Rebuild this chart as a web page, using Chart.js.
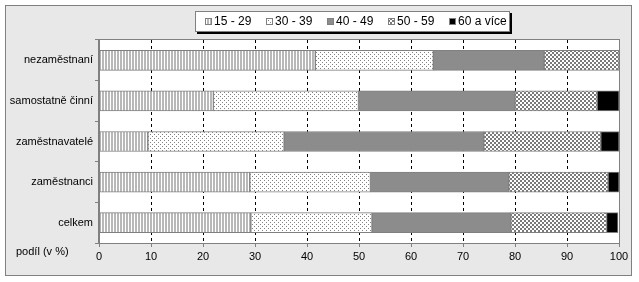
<!DOCTYPE html>
<html>
<head>
<meta charset="utf-8">
<script src="https://cdn.jsdelivr.net/npm/chart.js@4/dist/chart.umd.min.js"></script>
<style>
  html, body { margin: 0; padding: 0; background: #fff; }
  #wrap { width: 639px; height: 282px; }
</style>
</head>
<body>
<div id="wrap"><canvas id="ageChart" width="639" height="282"></canvas></div>
<script>
const categories = ['nezaměstnaní', 'samostatně činní', 'zaměstnavatelé', 'zaměstnanci', 'celkem'];
const groupLabels = ['15 - 29', '30 - 39', '40 - 49', '50 - 59', '60 a více'];
const age15to29 = [41.6, 22.0, 9.4, 29.0, 29.2];
const age30to39 = [22.7, 27.9, 26.2, 23.2, 23.3];
const age40to49 = [21.3, 30.1, 38.4, 26.6, 26.7];
const age50to59 = [14.4, 15.8, 22.5, 19.1, 18.4];
const age60plus = [0, 4.2, 3.5, 2.1, 2.2];
const xTicks = [0, 10, 20, 30, 40, 50, 60, 70, 80, 90, 100];

const FONT = '"Liberation Sans", Arial, sans-serif';

// small canvas patterns like the old excel fills
function makePattern(w, h, draw) {
  const c = document.createElement('canvas');
  c.width = w; c.height = h;
  const g = c.getContext('2d');
  g.fillStyle = '#fff';
  g.fillRect(0, 0, w, h);
  draw(g);
  return document.getElementById('ageChart').getContext('2d').createPattern(c, 'repeat');
}

const stripes = makePattern(3, 1, g => { g.fillStyle = '#b8b8b8'; g.fillRect(0, 0, 2, 1); });
const dots = makePattern(4, 4, g => { g.fillStyle = '#808080'; g.fillRect(0, 0, 1, 1); g.fillRect(2, 2, 1, 1); });
const checks = makePattern(4, 4, g => { g.fillStyle = '#7a7a7a'; g.fillRect(0, 0, 2, 2); g.fillRect(2, 2, 2, 2); });
const fills = [stripes, dots, '#8c8c8c', checks, '#000000'];
const series = [age15to29, age30to39, age40to49, age50to59, age60plus];

const frame = {
  id: 'frame',
  beforeDraw(chart) {
    const c = chart.ctx, a = chart.chartArea;
    c.save();
    c.fillStyle = '#fff';
    c.fillRect(0, 0, chart.width, chart.height);
    c.fillStyle = '#e8e8e8';
    c.fillRect(5, 5, 627, 271);
    c.strokeStyle = '#808080';
    c.lineWidth = 1;
    c.strokeRect(5.5, 5.5, 626, 270);
    c.fillStyle = '#fff';
    c.fillRect(a.left, a.top, a.right - a.left, a.bottom - a.top);
    c.restore();
  },
  afterDraw(chart) {
    const c = chart.ctx, a = chart.chartArea;
    c.save();
    c.strokeStyle = '#808080';
    c.lineWidth = 1;
    c.strokeRect(Math.round(a.left) - 0.5, Math.round(a.top) - 0.5, Math.round(a.right - a.left) + 1, Math.round(a.bottom - a.top) + 1);

    // legend box with shadow
    const bx = 195, by = 11, bw = 315, bh = 21;
    c.fillStyle = '#000';
    c.fillRect(bx + 2, by + 2, bw, bh);
    c.fillStyle = '#fff';
    c.fillRect(bx, by, bw, bh);
    c.strokeStyle = '#808080';
    c.strokeRect(bx + 0.5, by + 0.5, bw - 1, bh - 1);
    c.font = '12px ' + FONT;
    c.textBaseline = 'middle';
    chart.data.datasets.forEach((ds, i) => {
      const x = 205 + i * 61;
      c.fillStyle = ds.backgroundColor;
      c.fillRect(x, by + 7, 7, 7);
      c.strokeStyle = '#808080';
      c.strokeRect(x + 0.5, by + 7.5, 6, 6);
      c.fillStyle = '#000';
      c.fillText(ds.label, x + 9, by + 11);
    });

    // axis caption
    c.font = '11px ' + FONT;
    c.textAlign = 'left';
    c.fillText('podíl (v %)', 16, 252);
    c.restore();
  }
};

new Chart(document.getElementById('ageChart'), {
  type: 'bar',
  data: {
    labels: categories,
    datasets: series.map((vals, i) => ({
      label: groupLabels[i],
      data: vals,
      backgroundColor: fills[i],
      borderColor: '#808080',
      borderWidth: 1,
      borderSkipped: false,
      barThickness: 20
    }))
  },
  options: {
    indexAxis: 'y',
    responsive: false,
    animation: false,
    layout: { padding: { top: 40, right: 20, left: 0, bottom: 0 } },
    plugins: { legend: { display: false }, tooltip: { enabled: false } },
    scales: {
      x: {
        stacked: true,
        min: 0,
        max: 100,
        afterBuildTicks: scale => { scale.ticks = xTicks.map(v => ({ value: v })); },
        afterFit: scale => { scale.height = 39; },
        ticks: { color: '#000', padding: 3, font: { family: FONT, size: 11 } },
        grid: {
          color: ctx => (ctx.tick && ctx.tick.value > 0 && ctx.tick.value < 100) ? '#000' : 'rgba(0,0,0,0)',
          tickColor: '#808080',
          tickLength: 4,
          lineWidth: 1
        },
        border: { color: '#808080', dash: [3, 3] }
      },
      y: {
        stacked: true,
        afterFit: scale => { scale.width = 99; },
        ticks: { color: '#000', padding: 2, font: { family: FONT, size: 11 } },
        grid: { drawOnChartArea: false, tickColor: '#808080', tickLength: 4 },
        border: { color: '#808080' }
      }
    }
  },
  plugins: [frame]
});
</script>
</body>
</html>
